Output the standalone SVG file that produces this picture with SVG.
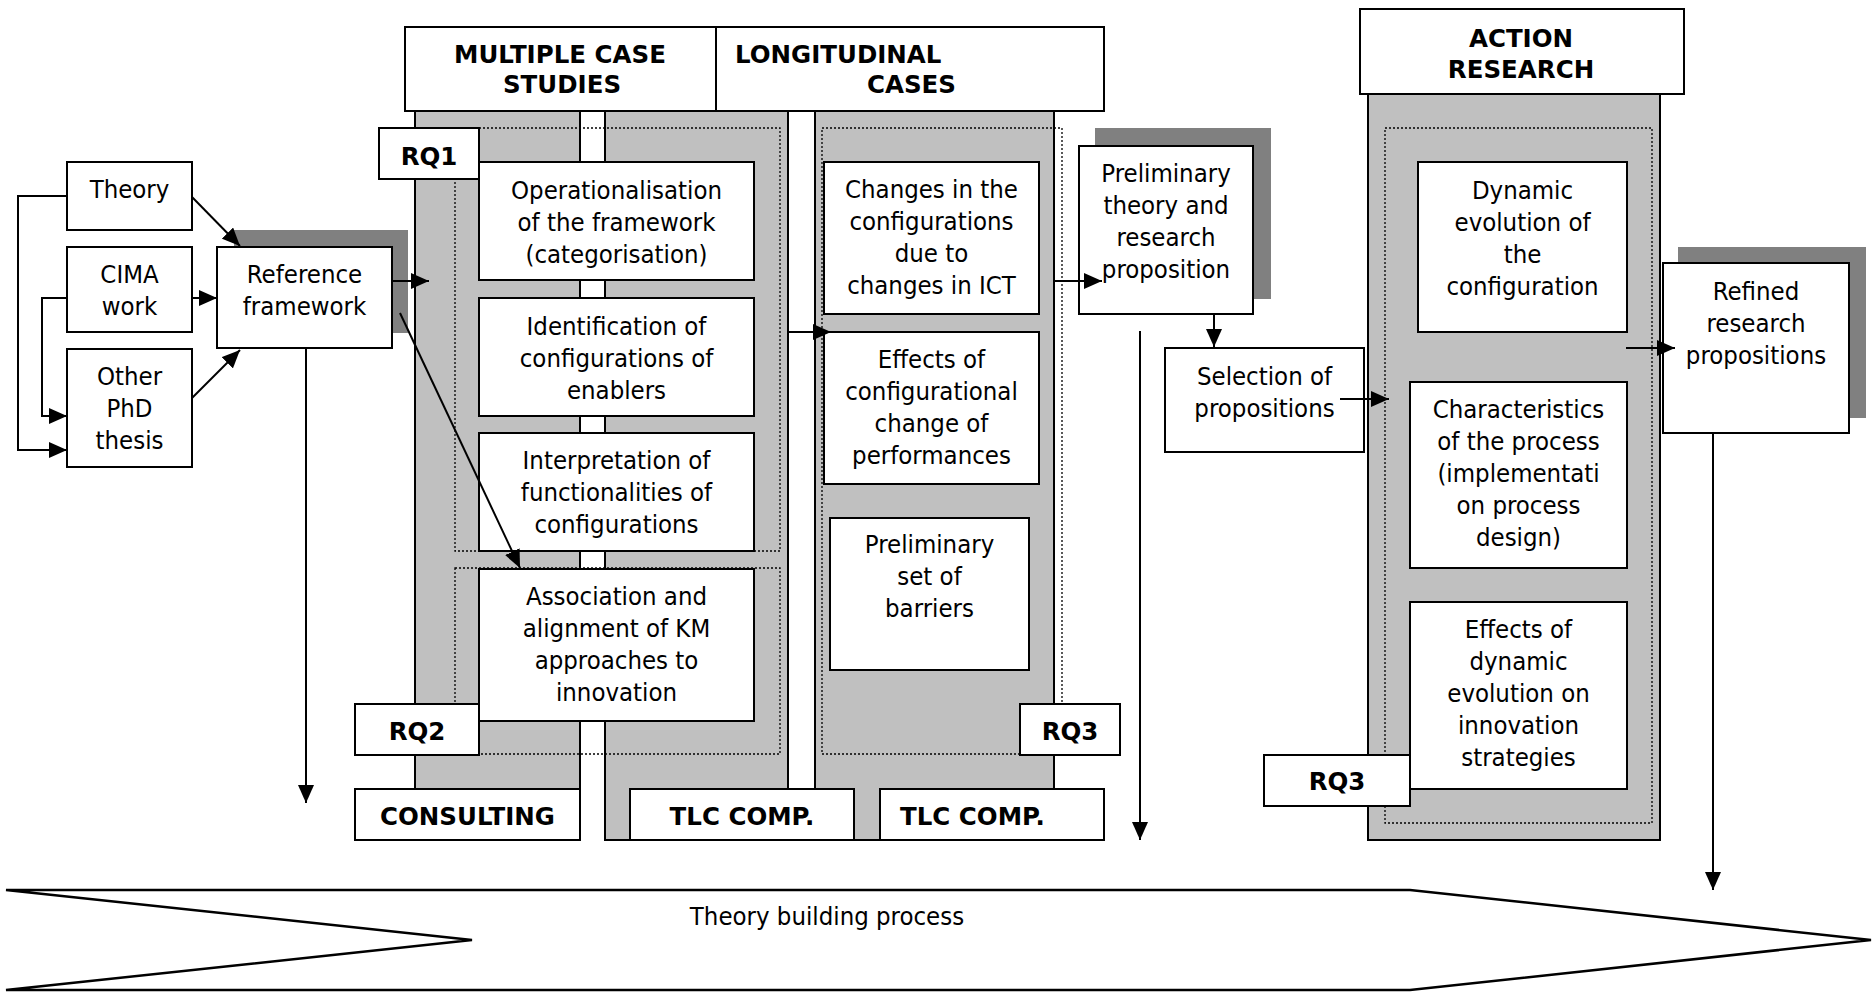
<svg xmlns="http://www.w3.org/2000/svg" width="1874" height="992" viewBox="0 0 1874 992">
  <style>
    .box{fill:#fff;stroke:#000;stroke-width:2}
    .col{fill:#c0c0c0;stroke:#000;stroke-width:2}
    .shadow{fill:#808080}
    .dot{fill:none;stroke:#000;stroke-width:1.3;stroke-dasharray:2 2}
    .t{font-family:'DejaVu Sans Condensed','DejaVu Sans',sans-serif;font-stretch:condensed;font-size:25.5px;text-anchor:middle;fill:#000}
    .b{font-family:'DejaVu Sans','Liberation Sans',sans-serif;font-weight:bold;font-size:24.5px;text-anchor:middle;fill:#000}
    .s{text-anchor:start}
    .ln{fill:none;stroke:#000;stroke-width:2}
    .ar{marker-end:url(#head)}
  </style>
  <defs>
    <marker id="head" viewBox="0 0 10 10" refX="10" refY="5" markerWidth="18" markerHeight="16" markerUnits="userSpaceOnUse" orient="auto" preserveAspectRatio="none">
      <path d="M0,0 L10,5 L0,10 Z" fill="#000"/>
    </marker>
  </defs>

  <rect width="1874" height="992" fill="#fff"/>

  <!-- column backgrounds -->
  <g id="columns">
    <rect class="col" x="415" y="111" width="165" height="678"/>
    <rect class="col" x="605" y="111" width="183" height="729"/>
    <rect class="col" x="815" y="111" width="239" height="729"/>
    <rect class="col" x="1368" y="94" width="292" height="746"/>
    <rect class="dot" x="455" y="128" width="325" height="423"/>
    <rect class="dot" x="455" y="568" width="325" height="186"/>
    <rect class="dot" x="822" y="128" width="240" height="626"/>
    <rect class="dot" x="1385" y="128" width="267" height="695"/>
  </g>

  <!-- section headers -->
  <g id="hdr-multiple">
    <rect class="box" x="405" y="27" width="311" height="84"/>
    <text class="b" x="560" y="63">MULTIPLE CASE</text>
    <text class="b" x="562" y="93">STUDIES</text>
  </g>
  <g id="hdr-longitudinal">
    <rect class="box" x="716" y="27" width="388" height="84"/>
    <text class="b s" x="735" y="63">LONGITUDINAL</text>
    <text class="b s" x="867" y="93">CASES</text>
  </g>
  <g id="hdr-action">
    <rect class="box" x="1360" y="9" width="324" height="85"/>
    <text class="b" x="1521" y="47">ACTION</text>
    <text class="b" x="1521" y="78">RESEARCH</text>
  </g>

  <!-- sources -->
  <g id="theory">
    <rect class="box" x="67" y="162" width="125" height="68"/>
    <text class="t" x="129.5" y="198">Theory</text>
  </g>
  <g id="cima">
    <rect class="box" x="67" y="247" width="125" height="85"/>
    <text class="t" x="129.5" y="283">CIMA</text>
    <text class="t" x="129.5" y="315">work</text>
  </g>
  <g id="phd">
    <rect class="box" x="67" y="349" width="125" height="118"/>
    <text class="t" x="129.5" y="385">Other</text>
    <text class="t" x="129.5" y="417">PhD</text>
    <text class="t" x="129.5" y="449">thesis</text>
  </g>
  <g id="reference">
    <rect class="shadow" x="234" y="230" width="174" height="103"/>
    <rect class="box" x="217" y="247" width="175" height="101"/>
    <text class="t" x="304.5" y="283">Reference</text>
    <text class="t" x="304.5" y="315">framework</text>
  </g>

  <!-- multiple case studies -->
  <g id="operationalisation">
    <rect class="box" x="479" y="162" width="275" height="118"/>
    <text class="t" x="616.5" y="199">Operationalisation</text>
    <text class="t" x="616.5" y="231">of the framework</text>
    <text class="t" x="616.5" y="263">(categorisation)</text>
  </g>
  <g id="identification">
    <rect class="box" x="479" y="298" width="275" height="118"/>
    <text class="t" x="616.5" y="335">Identification of</text>
    <text class="t" x="616.5" y="367">configurations of</text>
    <text class="t" x="616.5" y="399">enablers</text>
  </g>
  <g id="interpretation">
    <rect class="box" x="479" y="433" width="275" height="118"/>
    <text class="t" x="616.5" y="469">Interpretation of</text>
    <text class="t" x="616.5" y="501">functionalities of</text>
    <text class="t" x="616.5" y="533">configurations</text>
  </g>
  <g id="association">
    <rect class="box" x="479" y="569" width="275" height="152"/>
    <text class="t" x="616.5" y="605">Association and</text>
    <text class="t" x="616.5" y="637">alignment of KM</text>
    <text class="t" x="616.5" y="669">approaches to</text>
    <text class="t" x="616.5" y="701">innovation</text>
  </g>
  <g id="rq1">
    <rect class="box" x="379" y="128" width="100" height="51"/>
    <text class="b" x="429" y="165">RQ1</text>
  </g>
  <g id="rq2">
    <rect class="box" x="355" y="704" width="124" height="51"/>
    <text class="b" x="417" y="740">RQ2</text>
  </g>
  <g id="consulting">
    <rect class="box" x="355" y="789" width="225" height="51"/>
    <text class="b" x="467.5" y="825">CONSULTING</text>
  </g>
  <g id="tlc1">
    <rect class="box" x="630" y="789" width="224" height="51"/>
    <text class="b" x="742" y="825">TLC COMP.</text>
  </g>

  <!-- longitudinal cases -->
  <g id="changes">
    <rect class="box" x="824" y="162" width="215" height="152"/>
    <text class="t" x="931.5" y="198">Changes in the</text>
    <text class="t" x="931.5" y="230">configurations</text>
    <text class="t" x="931.5" y="262">due to</text>
    <text class="t" x="931.5" y="294">changes in ICT</text>
  </g>
  <g id="effects-config">
    <rect class="box" x="824" y="332" width="215" height="152"/>
    <text class="t" x="931.5" y="368">Effects of</text>
    <text class="t" x="931.5" y="400">configurational</text>
    <text class="t" x="931.5" y="432">change of</text>
    <text class="t" x="931.5" y="464">performances</text>
  </g>
  <g id="barriers">
    <rect class="box" x="830" y="518" width="199" height="152"/>
    <text class="t" x="929.5" y="553">Preliminary</text>
    <text class="t" x="929.5" y="585">set of</text>
    <text class="t" x="929.5" y="617">barriers</text>
  </g>
  <g id="rq3-long">
    <rect class="box" x="1020" y="704" width="100" height="51"/>
    <text class="b" x="1070" y="740">RQ3</text>
  </g>
  <g id="tlc2">
    <rect class="box" x="880" y="789" width="224" height="51"/>
    <text class="b s" x="900" y="825">TLC COMP.</text>
  </g>

  <!-- propositions -->
  <g id="prelim-theory">
    <rect class="shadow" x="1095" y="128" width="176" height="171"/>
    <rect class="box" x="1079" y="146" width="174" height="168"/>
    <text class="t" x="1166" y="182">Preliminary</text>
    <text class="t" x="1166" y="214">theory and</text>
    <text class="t" x="1166" y="246">research</text>
    <text class="t" x="1166" y="278">proposition</text>
  </g>
  <g id="selection">
    <rect class="box" x="1165" y="348" width="199" height="104"/>
    <text class="t" x="1264.5" y="385">Selection of</text>
    <text class="t" x="1264.5" y="417">propositions</text>
  </g>

  <!-- action research -->
  <g id="dynamic">
    <rect class="box" x="1418" y="162" width="209" height="170"/>
    <text class="t" x="1522.5" y="199">Dynamic</text>
    <text class="t" x="1522.5" y="231">evolution of</text>
    <text class="t" x="1522.5" y="263">the</text>
    <text class="t" x="1522.5" y="295">configuration</text>
  </g>
  <g id="characteristics">
    <rect class="box" x="1410" y="382" width="217" height="186"/>
    <text class="t" x="1518.5" y="418">Characteristics</text>
    <text class="t" x="1518.5" y="450">of the process</text>
    <text class="t" x="1518.5" y="482">(implementati</text>
    <text class="t" x="1518.5" y="514">on process</text>
    <text class="t" x="1518.5" y="546">design)</text>
  </g>
  <g id="effects-dynamic">
    <rect class="box" x="1410" y="602" width="217" height="187"/>
    <text class="t" x="1518.5" y="638">Effects of</text>
    <text class="t" x="1518.5" y="670">dynamic</text>
    <text class="t" x="1518.5" y="702">evolution on</text>
    <text class="t" x="1518.5" y="734">innovation</text>
    <text class="t" x="1518.5" y="766">strategies</text>
  </g>
  <g id="rq3-action">
    <rect class="box" x="1264" y="755" width="146" height="51"/>
    <text class="b" x="1337" y="790">RQ3</text>
  </g>
  <g id="refined">
    <rect class="shadow" x="1678" y="247" width="188" height="171"/>
    <rect class="box" x="1663" y="263" width="186" height="170"/>
    <text class="t" x="1756" y="300">Refined</text>
    <text class="t" x="1756" y="332">research</text>
    <text class="t" x="1756" y="364">propositions</text>
  </g>

  <!-- process band -->
  <g id="theory-building">
    <path d="M6,890 L1410,890 L1871,940 L1410,990 L6,990 L472,940 Z" fill="#fff" stroke="#000" stroke-width="2.5" stroke-linejoin="miter"/>
    <text class="t" x="827" y="925">Theory building process</text>
  </g>

  <!-- connectors -->
  <g id="connectors">
    <path class="ln ar" d="M67,196 H18 V450 H67"/>
    <path class="ln ar" d="M67,298 H42 V416 H67"/>
    <path class="ln ar" d="M192,197 L240,246"/>
    <path class="ln ar" d="M192,298 H217"/>
    <path class="ln ar" d="M192,398 L240,350"/>
    <path class="ln ar" d="M306,348 V803"/>
    <path class="ln ar" d="M392,281 H429"/>
    <path class="ln ar" d="M400,313 L520,568"/>
    <path class="ln ar" d="M788,332 H831"/>
    <path class="ln ar" d="M1054,281 H1102"/>
    <path class="ln ar" d="M1214,314 V347"/>
    <path class="ln ar" d="M1140,331 V840"/>
    <path class="ln ar" d="M1340,399 H1389"/>
    <path class="ln ar" d="M1626,348 H1675"/>
    <path class="ln ar" d="M1713,433 V890"/>
  </g>
</svg>
